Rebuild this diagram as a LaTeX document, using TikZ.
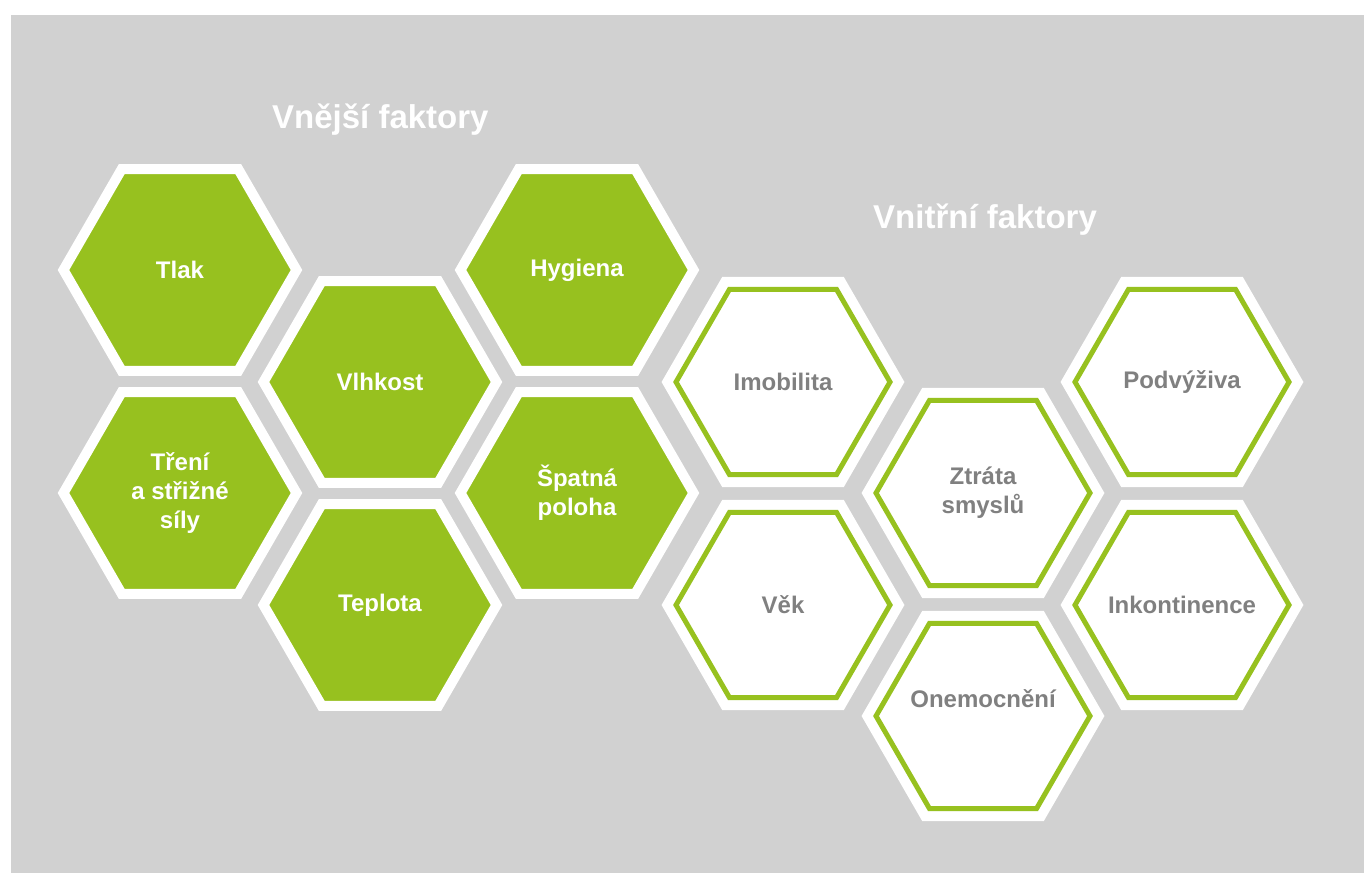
\documentclass[tikz,border=0pt]{standalone}
\usepackage{fontspec}
\setmainfont{Liberation Sans}
\usepackage{tikz}
\usetikzlibrary{shapes.geometric}
\definecolor{hexgreen}{RGB}{151,193,31}
\definecolor{hexgray}{RGB}{128,128,128}
\definecolor{backgray}{RGB}{209,209,209}

\begin{document}
\begin{tikzpicture}[x=1pt,y=1pt,node distance=223pt,
  hex node/.style={regular polygon,regular polygon sides=6,inner sep=-40pt,align=center,font=\bfseries\fontsize{24}{29}\selectfont},
  ext node/.style={hex node,minimum size=233pt,fill=hexgreen,draw=white,line width=10pt,text=white},
  int node/.style={hex node,minimum size=214pt,fill=white,draw=white,line width=10pt,double=hexgreen,double distance=5pt,text=hexgray},
  title/.style={anchor=base west,inner sep=0pt,text=white,font=\bfseries\fontsize{33}{40}\selectfont}]

			\useasboundingbox (0,0) rectangle (1364,873);
			\fill[white] (0,0) rectangle (1364,873);
			\fill[backgray] (11,0) rectangle (1364,858);

			\node[title] (vnejsi) at (272,744) {Vnější faktory};
			\node[title] (vnitrni) at (873,644) {Vnitřní faktory};

			\node[ext node] (tlak) at (180,603) {Tlak};
			\node[ext node] (treni) [below of=tlak] {Tření\\a střižné\\síly};
			\node[ext node] (vlhkost) at (380,491) {Vlhkost};
			\node[ext node] (teplota) [below of=vlhkost] {Teplota};
			\node[ext node] (hygiena) at (577,603) {Hygiena};
			\node[ext node] (poloha) [below of=hygiena] {Špatná\\poloha};

			\node[int node] (imobilita) at (783,491) {Imobilita};
			\node[int node] (vek) [below of=imobilita] {Věk};
			\node[int node] (smysly) at (983,380) {Ztráta\\smyslů};
			\node[int node,text depth=35pt] (onemocneni) [below of=smysly] {Onemocnění};
			\node[int node] (podvyziva) at (1182,491) {Podvýživa};
			\node[int node] (inkontinence) [below of=podvyziva] {Inkontinence};
		\end{tikzpicture}
\end{document}
